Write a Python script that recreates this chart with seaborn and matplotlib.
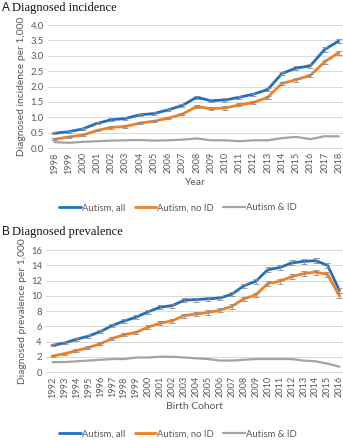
import numpy as np
import pandas as pd
import matplotlib
matplotlib.use("Agg")
import matplotlib.pyplot as plt
import seaborn as sns
from matplotlib.lines import Line2D

# Panel A: diagnosed incidence per 1,000 by calendar year
years = list(range(1998, 2019))
inc_all = [0.48, 0.53, 0.62, 0.80, 0.92, 0.96, 1.08, 1.12, 1.24, 1.38, 1.65,
           1.54, 1.56, 1.65, 1.75, 1.90, 2.42, 2.60, 2.67, 3.20, 3.48]
inc_noid = [0.28, 0.36, 0.42, 0.57, 0.67, 0.70, 0.81, 0.87, 0.97, 1.10, 1.35,
            1.28, 1.30, 1.40, 1.48, 1.65, 2.10, 2.22, 2.36, 2.80, 3.10]
inc_id = [0.19, 0.17, 0.20, 0.22, 0.24, 0.25, 0.26, 0.24, 0.25, 0.27, 0.31,
          0.25, 0.25, 0.22, 0.25, 0.25, 0.32, 0.36, 0.29, 0.38, 0.38]
inc_err = [0.03, 0.03, 0.03, 0.03, 0.04, 0.04, 0.04, 0.04, 0.04, 0.04, 0.05,
           0.05, 0.05, 0.05, 0.05, 0.05, 0.06, 0.06, 0.06, 0.07, 0.07]

# Panel B: diagnosed prevalence per 1,000 by birth cohort
cohorts = list(range(1992, 2017))
prev_all = [3.5, 3.8, 4.3, 4.7, 5.3, 6.1, 6.7, 7.2, 7.9, 8.5, 8.7, 9.4, 9.5,
            9.6, 9.7, 10.2, 11.3, 11.9, 13.4, 13.7, 14.3, 14.5, 14.6, 14.0, 10.7]
prev_noid = [2.1, 2.4, 2.8, 3.2, 3.7, 4.4, 4.9, 5.2, 5.9, 6.4, 6.7, 7.4, 7.6,
             7.8, 8.1, 8.6, 9.6, 10.1, 11.6, 11.9, 12.5, 12.9, 13.1, 12.8, 10.0]
prev_id = [1.3, 1.3, 1.4, 1.5, 1.6, 1.7, 1.7, 1.9, 1.9, 2.0, 2.0, 1.9, 1.8,
           1.7, 1.5, 1.5, 1.6, 1.7, 1.7, 1.7, 1.7, 1.5, 1.4, 1.1, 0.7]
prev_err = [0.15, 0.15, 0.17, 0.18, 0.2, 0.2, 0.22, 0.22, 0.25, 0.25, 0.25,
            0.27, 0.27, 0.27, 0.27, 0.28, 0.3, 0.3, 0.32, 0.32, 0.33, 0.33,
            0.33, 0.33, 0.3]

series_names = ["Autism, all", "Autism, no ID", "Autism & ID"]
colors = ["#1F6FC6", "#F47E20", "#A3A3A3"]
widths = [2.0, 2.0, 1.6]

sns.set_theme(style="white")
plt.rcParams["font.family"] = ["Lato", "DejaVu Sans"]
GREY_TXT = "#595959"

W, H = 343, 440
fig = plt.figure(figsize=(W / 100, H / 100), dpi=100)


def px_axes(left, top, right, bottom):
    return fig.add_axes([left / W, 1 - bottom / H, (right - left) / W, (bottom - top) / H])


def draw_panel(ax, xs, series, err, ymax, ystep, xlabel, ylabel):
    idx = np.arange(len(xs))
    frames = []
    for name, vals in zip(series_names, series):
        frames.append(pd.DataFrame({"i": idx, "value": vals, "series": name}))
    df = pd.concat(frames, ignore_index=True)
    sns.lineplot(data=df, x="i", y="value", hue="series", hue_order=series_names,
                 palette=colors, ax=ax, legend=False, zorder=3)
    for line, lw in zip(ax.get_lines(), widths):
        line.set_linewidth(lw)
        line.set_solid_joinstyle("round")
    for vals in series[:2]:
        ax.errorbar(idx, vals, yerr=err, fmt="none", ecolor="#8C8C8C",
                    elinewidth=0.6, capsize=2.0, capthick=0.6, zorder=4)
    ax.set_ylim(0, ymax)
    ticks = np.arange(0, ymax + 1e-9, ystep)
    ax.set_yticks(ticks)
    if ystep < 1:
        ax.set_yticklabels([f"{v:.1f}" for v in ticks])
    ax.set_xticks(idx)
    ax.set_xticklabels([str(x) for x in xs], rotation=90)
    ax.grid(axis="y", color="#D9D9D9", linewidth=0.7)
    for s in ["top", "right", "left"]:
        ax.spines[s].set_visible(False)
    ax.spines["bottom"].set_color("#D9D9D9")
    ax.spines["bottom"].set_linewidth(0.8)
    ax.tick_params(axis="both", colors=GREY_TXT, length=0, pad=3)
    ax.tick_params(axis="x", labelsize=6.6)
    ax.tick_params(axis="y", labelsize=6.8)
    ax.set_xlabel(xlabel, fontsize=7.5, color=GREY_TXT, labelpad=3)
    ax.set_ylabel(ylabel, fontsize=7.4, color=GREY_TXT, labelpad=3)
    ax.set_facecolor("white")


axA = px_axes(48, 25, 343, 148)
draw_panel(axA, years, [inc_all, inc_noid, inc_id], inc_err, 4.0, 0.5,
           "Year", "Diagnosed incidence per 1,000")
axA.set_xlim(-0.45, 20.3)

axB = px_axes(46, 250, 343, 372)
draw_panel(axB, cohorts, [prev_all, prev_noid, prev_id], prev_err, 16, 2,
           "Birth Cohort", "Diagnosed prevalence per 1,000")
axB.set_xlim(-0.55, 24.3)

# panel titles
for ytop, letter, title in [(8, "A", "Diagnosed incidence"), (232, "B", "Diagnosed prevalence")]:
    fig.text(2 / W, 1 - ytop / H, letter, fontsize=8.5, family="Liberation Sans",
             color="#111111", va="center", ha="left")
    fig.text(12.5 / W, 1 - ytop / H, title, fontsize=9, family="Liberation Serif",
             color="#111111", va="center", ha="left")

# legends
handles = [Line2D([0], [0], color=c, lw=lw) for c, lw in zip(colors, widths)]
for ycen in (208, 434):
    fig.legend(handles, series_names, loc="center", bbox_to_anchor=(178 / W, 1 - ycen / H),
               ncol=3, frameon=False, fontsize=6.8, handlelength=2.3, handletextpad=0.1,
               columnspacing=1.0, labelcolor=GREY_TXT)

fig.savefig("out.png", dpi=100, facecolor="white")
